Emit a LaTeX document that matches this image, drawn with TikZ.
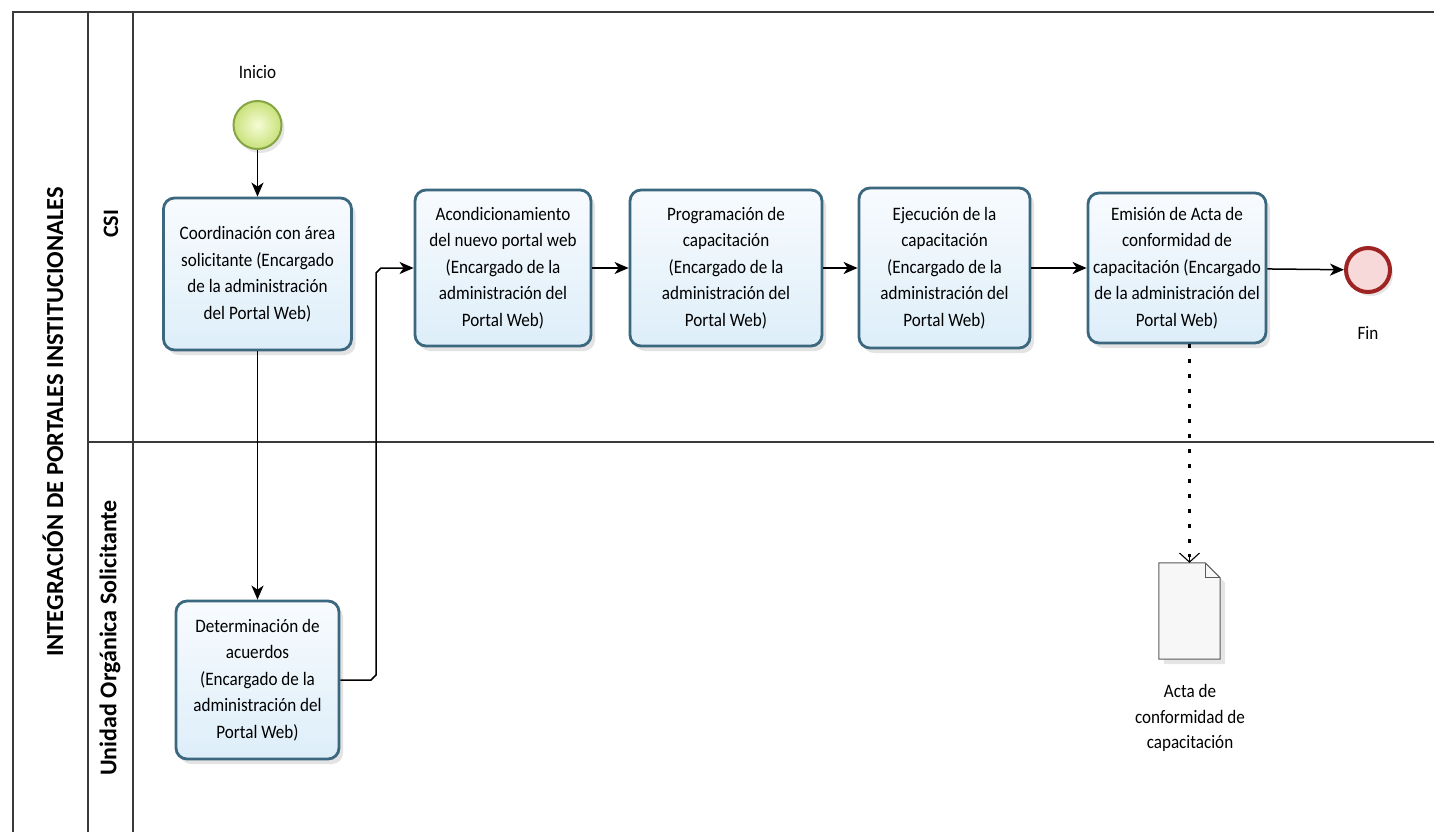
\documentclass[tikz,border=0pt]{standalone}
\usepackage{fontspec}
\setmainfont{Carlito}
\newfontfamily\narrowfont{Carlito}[FakeStretch=0.9]
\usetikzlibrary{arrows.meta,shadows,calc}

\definecolor{laneline}{HTML}{3A3A3A}
\definecolor{taskborder}{HTML}{3B677F}
\definecolor{tasktop}{HTML}{F8FBFE}
\definecolor{taskbottom}{HTML}{DDEEF9}
\definecolor{startborder}{HTML}{86A545}
\definecolor{startinner}{HTML}{F6FCD6}
\definecolor{startouter}{HTML}{C9E17A}
\definecolor{endborder}{HTML}{9E2424}
\definecolor{endfill}{HTML}{F8D9D9}
\definecolor{docborder}{HTML}{5A5A5A}
\definecolor{docfill}{HTML}{F7F7F7}

\tikzset{
  lane/.style={draw=laneline, line width=1.4pt},
  task/.style={rectangle, rounded corners=11pt, draw=taskborder, line width=2.8pt,
    top color=tasktop, bottom color=taskbottom,
    drop shadow={opacity=0.22, shadow xshift=4pt, shadow yshift=-5pt},
    align=center, inner sep=3pt, font=\narrowfont\fontsize{19}{26.5}\selectfont},
  startev/.style={circle, minimum size=48pt, inner sep=0pt, draw=startborder, line width=2pt,
    inner color=startinner, outer color=startouter,
    drop shadow={opacity=0.2, shadow xshift=3pt, shadow yshift=-4pt}},
  endev/.style={circle, minimum size=44pt, inner sep=0pt, draw=endborder, line width=4pt,
    fill=endfill, drop shadow={opacity=0.2, shadow xshift=3pt, shadow yshift=-4pt}},
  lbl/.style={align=center, font=\narrowfont\fontsize{19}{25.5}\selectfont},
  flow/.style={draw=black, line width=1.5pt, -{Stealth[length=14pt,width=12pt,inset=4pt]}},
  assoc/.style={draw=black, line width=3.5pt, dash pattern=on 3.5pt off 11.5pt},
  assoctip/.style={draw=black, line width=1.1pt, -{Straight Barb[length=9pt,width=20pt]}},
  lanetitle/.style={rotate=90, font=\bfseries\fontsize{22}{24}\selectfont},
}

\begin{document}
\begin{tikzpicture}[x=1pt,y=-1pt]
\useasboundingbox (0,0) rectangle (1434,832);
\fill[white] (0,0) rectangle (1434,832);

% pool and lane borders
\draw[lane] (13,832) -- (13,12) -- (1434,12);
\draw[lane] (88,12) -- (88,832);
\draw[lane] (133,12) -- (133,832);
\draw[lane] (88,442) -- (1434,442);

% pool and lane titles
\node[lanetitle, font=\bfseries\fontsize{24.5}{26}\selectfont] (pool) at (53,422) {INTEGRACIÓN DE PORTALES INSTITUCIONALES};
\node[lanetitle] (csi) at (111,224) {CSI};
\node[lanetitle, font=\bfseries\fontsize{24}{26}\selectfont] (uos) at (110,638) {Unidad Orgánica Solicitante};

% events
\node[startev] (start) at (257.5,125) {};
\node[lbl] (startlbl) at (257.5,72) {Inicio};
\node[endev] (fin) at (1368,270) {};
\node[lbl] (finlbl) at (1368,333) {Fin};

% tasks
\node[task, minimum width=188pt, minimum height=152pt] (t1) at (257.5,274)
  {Coordinación con área\\solicitante (Encargado\\de la administración\\del Portal Web)};
\node[task, minimum width=163pt, minimum height=158pt] (t2) at (257.5,680)
  {Determinación de\\acuerdos\\(Encargado de la\\administración del\\Portal Web)};
\node[task, minimum width=176pt, minimum height=156pt] (t3) at (503,268)
  {Acondicionamiento\\del nuevo portal web\\(Encargado de la\\administración del\\Portal Web)};
\node[task, minimum width=192pt, minimum height=156pt] (t4) at (726,268)
  {Programación de\\capacitación\\(Encargado de la\\administración del\\Portal Web)};
\node[task, minimum width=171pt, minimum height=160pt] (t5) at (944.5,268)
  {Ejecución de la\\capacitación\\(Encargado de la\\administración del\\Portal Web)};
\node[task, minimum width=178pt, minimum height=150pt] (t6) at (1177,268)
  {Emisión de Acta de\\conformidad de\\capacitación (Encargado\\de la administración del\\Portal Web)};

% data object
\node[minimum width=61pt, minimum height=96pt, inner sep=0pt] (doc) at (1189.5,611) {};
\fill[black, opacity=0.10] ([shift={(5,5)}]doc.north west) -- ([shift={(-10,5)}]doc.north east)
  -- ([shift={(5,20)}]doc.north east) -- ([shift={(5,5)}]doc.south east)
  -- ([shift={(5,5)}]doc.south west) -- cycle;
\draw[draw=docborder, fill=docfill, line width=1pt]
  (doc.north west) -- ([shift={(-15,0)}]doc.north east) -- ([shift={(0,15)}]doc.north east)
  -- (doc.south east) -- (doc.south west) -- cycle;
\draw[draw=docborder, line width=1pt]
  ([shift={(-15,0)}]doc.north east) -- ([shift={(-15,15)}]doc.north east) -- ([shift={(0,15)}]doc.north east);
\node[lbl] (doclbl) at (1190,718) {Acta de\\conformidad de\\capacitación};

% sequence flows
\coordinate (j1) at (371,680);
\coordinate (j2) at (376,675);
\coordinate (j3) at (376,273);
\coordinate (j4) at (381,268);
\draw[flow] (start) -- (t1);
\draw[flow] (t1) -- (t2);
\draw[flow] (t2.east) -- (j1) -- (j2) -- (j3) -- (j4) -- (t3.west);
\draw[flow] (t3) -- (t4);
\draw[flow] (t4) -- (t5);
\draw[flow] (t5) -- (t6);
\draw[flow] (t6) -- (fin);

% association to the data object
\coordinate (assocend) at ($(doc.north)+(0,-6)$);
\draw[assoc] (t6.south -| doc.north) -- (assocend);
\draw[assoctip] (assocend) -- (doc.north);
\end{tikzpicture}
\end{document}
